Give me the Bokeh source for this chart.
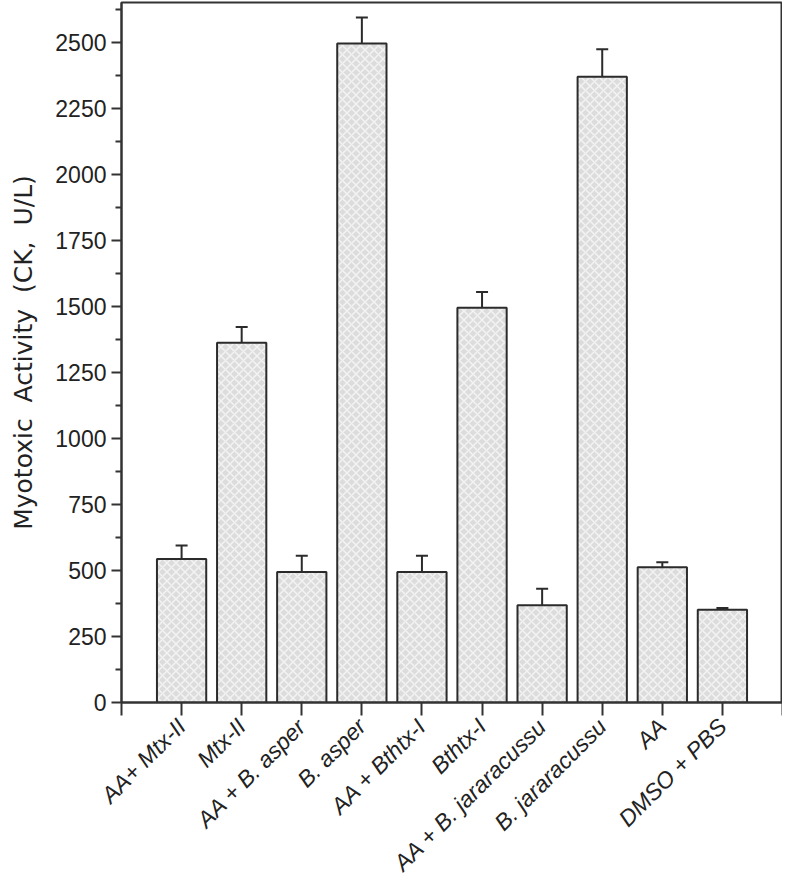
import math
from bokeh.plotting import figure
from bokeh.models import FixedTicker, Whisker, TeeHead, ColumnDataSource, Range1d
from bokeh.embed import file_html
from bokeh.resources import INLINE

categories = ["AA+ Mtx-II", "Mtx-II", "AA + B. asper", "B. asper", "AA + Bthtx-I",
              "Bthtx-I", "AA + B. jararacussu", "B. jararacussu", "AA", "DMSO + PBS"]
means = [543, 1362, 494, 2495, 494, 1494, 368, 2369, 512, 351]
errors = [51, 60, 62, 98, 62, 60, 63, 104, 19, 7]
y_ticks = [0, 250, 500, 750, 1000, 1250, 1500, 1750, 2000, 2250, 2500]

xs = list(range(1, len(categories) + 1))
src = ColumnDataSource(dict(
    x=xs, top=means,
    upper=[m + e for m, e in zip(means, errors)],
))

p = figure(frame_width=661, frame_height=700,
           x_range=Range1d(0, len(categories) + 1), y_range=Range1d(0, 2650),
           output_backend="svg", toolbar_location=None,
           min_border_left=121, min_border_right=0, min_border_top=2, min_border_bottom=10)

p.vbar(x="x", top="top", bottom=0, width=0.82, source=src,
       fill_color="#dcdcdc", hatch_pattern="x", hatch_color="#f3f3f3",
       hatch_scale=9, hatch_weight=1.5,
       line_color="#2b2b2b", line_width=2)

w = Whisker(source=src, base="x", lower="top", upper="upper", dimension="height",
            line_color="#2b2b2b", line_width=2,
            upper_head=TeeHead(size=12, line_color="#2b2b2b", line_width=2),
            lower_head=None)
p.add_layout(w)

p.xgrid.visible = False
p.ygrid.visible = False
p.outline_line_color = "#333333"
p.outline_line_width = 2
p.background_fill_color = "white"
p.border_fill_color = "white"

# x axis
xa = p.xaxis[0]
xa.ticker = FixedTicker(ticks=list(range(0, len(categories) + 2)))
overrides = {i + 1: c for i, c in enumerate(categories)}
overrides[0] = ""
overrides[len(categories) + 1] = ""
xa.major_label_overrides = overrides
xa.major_label_orientation = math.pi / 4
xa.major_label_text_font = "Liberation Sans"
xa.major_label_text_font_style = "italic"
xa.major_label_text_font_size = "23px"
xa.major_label_text_color = "#222222"
xa.major_label_standoff = 7
xa.major_tick_out = 13
xa.major_tick_in = 0
xa.minor_tick_out = 0
xa.minor_tick_in = 0
xa.axis_line_width = 2
xa.axis_line_color = "#333333"
xa.major_tick_line_width = 2
xa.major_tick_line_color = "#333333"

# y axis
ya = p.yaxis[0]
ya.ticker = FixedTicker(ticks=y_ticks,
                        minor_ticks=[t + 125 for t in y_ticks])
ya.axis_label = "Myotoxic\u00a0\u00a0Activity\u00a0\u00a0(CK,\u00a0\u00a0U/L)"
ya.axis_label_text_font = "DejaVu Sans"
ya.axis_label_text_font_style = "normal"
ya.axis_label_text_font_size = "25px"
ya.axis_label_text_color = "#222222"
ya.axis_label_standoff = 14
ya.major_label_text_font = "Liberation Sans"
ya.major_label_text_font_size = "23px"
ya.major_label_text_color = "#222222"
ya.major_label_standoff = 5
ya.major_tick_out = 10
ya.major_tick_in = 0
ya.minor_tick_out = 6
ya.minor_tick_in = 0
ya.axis_line_width = 2
ya.axis_line_color = "#333333"
ya.major_tick_line_width = 2
ya.major_tick_line_color = "#333333"
ya.minor_tick_line_width = 2
ya.minor_tick_line_color = "#333333"

open("out.html", "w").write(file_html(p, INLINE))
